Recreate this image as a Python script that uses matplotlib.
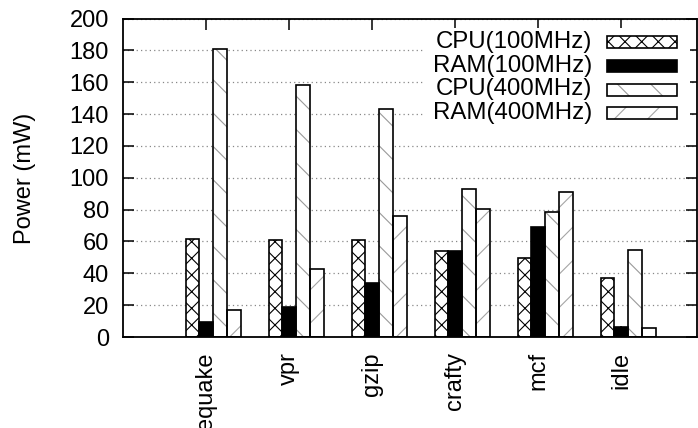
import matplotlib
matplotlib.use("Agg")
import matplotlib.pyplot as plt
from matplotlib.patches import Rectangle

plt.rcParams['font.family'] = ['Liberation Sans', 'DejaVu Sans']
plt.rcParams['hatch.linewidth'] = 0.8

benchmarks = ["equake", "vpr", "gzip", "crafty", "mcf", "idle"]
series_names = ["CPU(100MHz)", "RAM(100MHz)", "CPU(400MHz)", "RAM(400MHz)"]
cpu_100 = [61.5, 61, 61.2, 54, 49.3, 37]
ram_100 = [9.4, 18.6, 34, 54.3, 68.8, 6]
cpu_400 = [181, 158, 143, 93, 78.4, 54.8]
ram_400 = [17, 42.4, 76, 80.5, 91.3, 5.8]
y_ticks = [0, 20, 40, 60, 80, 100, 120, 140, 160, 180, 200]

# fill, hatch colour, hatch pattern for each series
styles = [
    ("white", "black", "xx"),
    ("black", "black", ""),
    ("white", "#9a9a9a", "\\"),
    ("white", "#a5a5a5", "/"),
]

W, H = 698, 428
fig = plt.figure(figsize=(W / 100, H / 100), dpi=100)
left, right, top, bottom = 123, 697, 18.5, 337
ax = fig.add_axes([left / W, 1 - bottom / H, (right - left) / W, (bottom - top) / H])

bar_w = 1 / 6
offset = -0.245
xs = list(range(len(benchmarks)))
all_series = [cpu_100, ram_100, cpu_400, ram_400]
for j, (vals, (fc, hc, hatch)) in enumerate(zip(all_series, styles)):
    pos = [x + offset + j * bar_w for x in xs]
    ax.bar(pos, vals, width=bar_w, align='edge', color=fc, edgecolor=hc,
           hatch=hatch, linewidth=0, zorder=2)
    ax.bar(pos, vals, width=bar_w, align='edge', fill=False,
           edgecolor='black', linewidth=1.2, zorder=3)

ax.set_xlim(-1.0, (right - 206) / 83)
ax.set_ylim(0, 200)
ax.set_yticks(y_ticks)
ax.set_xticks(xs)
ax.set_xticklabels(benchmarks, rotation=90, ha='center', va='top')
ax.set_axisbelow(True)
ax.yaxis.grid(True, color='#888888', linestyle=(0, (1, 2.5)), linewidth=0.9)

ax.tick_params(axis='y', direction='in', length=8, width=1.1, labelsize=17,
               pad=10, right=True)
ax.tick_params(axis='x', direction='in', length=8, width=1.1, labelsize=17,
               pad=11, top=True)
for sp in ax.spines.values():
    sp.set_linewidth(1.3)

fig.text(24.5 / W, 1 - 178 / H, "Power (mW)", rotation=90, ha='center',
         va='center', fontsize=17)

# legend drawn by hand in pixel coordinates
def px(x, y):
    return ((x - left) / (right - left), (bottom - y) / (bottom - top))

bx, by = px(425, 124)
bx2, by2 = px(690, 28)
ax.add_patch(Rectangle((bx, by), bx2 - bx, by2 - by, transform=ax.transAxes,
                       facecolor='white', edgecolor='none', zorder=4))
row_y = [42, 66, 89.5, 113]
for name, (fc, hc, hatch), yc in zip(series_names, styles, row_y):
    ax.text(*px(592, yc), name, transform=ax.transAxes, ha='right',
            va='center', fontsize=17.3, zorder=5)
    x0, y0 = px(607, yc + 6)
    x1, y1 = px(677, yc - 6)
    ax.add_patch(Rectangle((x0, y0), x1 - x0, y1 - y0, transform=ax.transAxes,
                           facecolor=fc, edgecolor=hc, hatch=hatch,
                           linewidth=0, zorder=5))
    ax.add_patch(Rectangle((x0, y0), x1 - x0, y1 - y0, transform=ax.transAxes,
                           fill=False, edgecolor='black', linewidth=1.2,
                           zorder=6))

fig.savefig("out.png", dpi=100)
